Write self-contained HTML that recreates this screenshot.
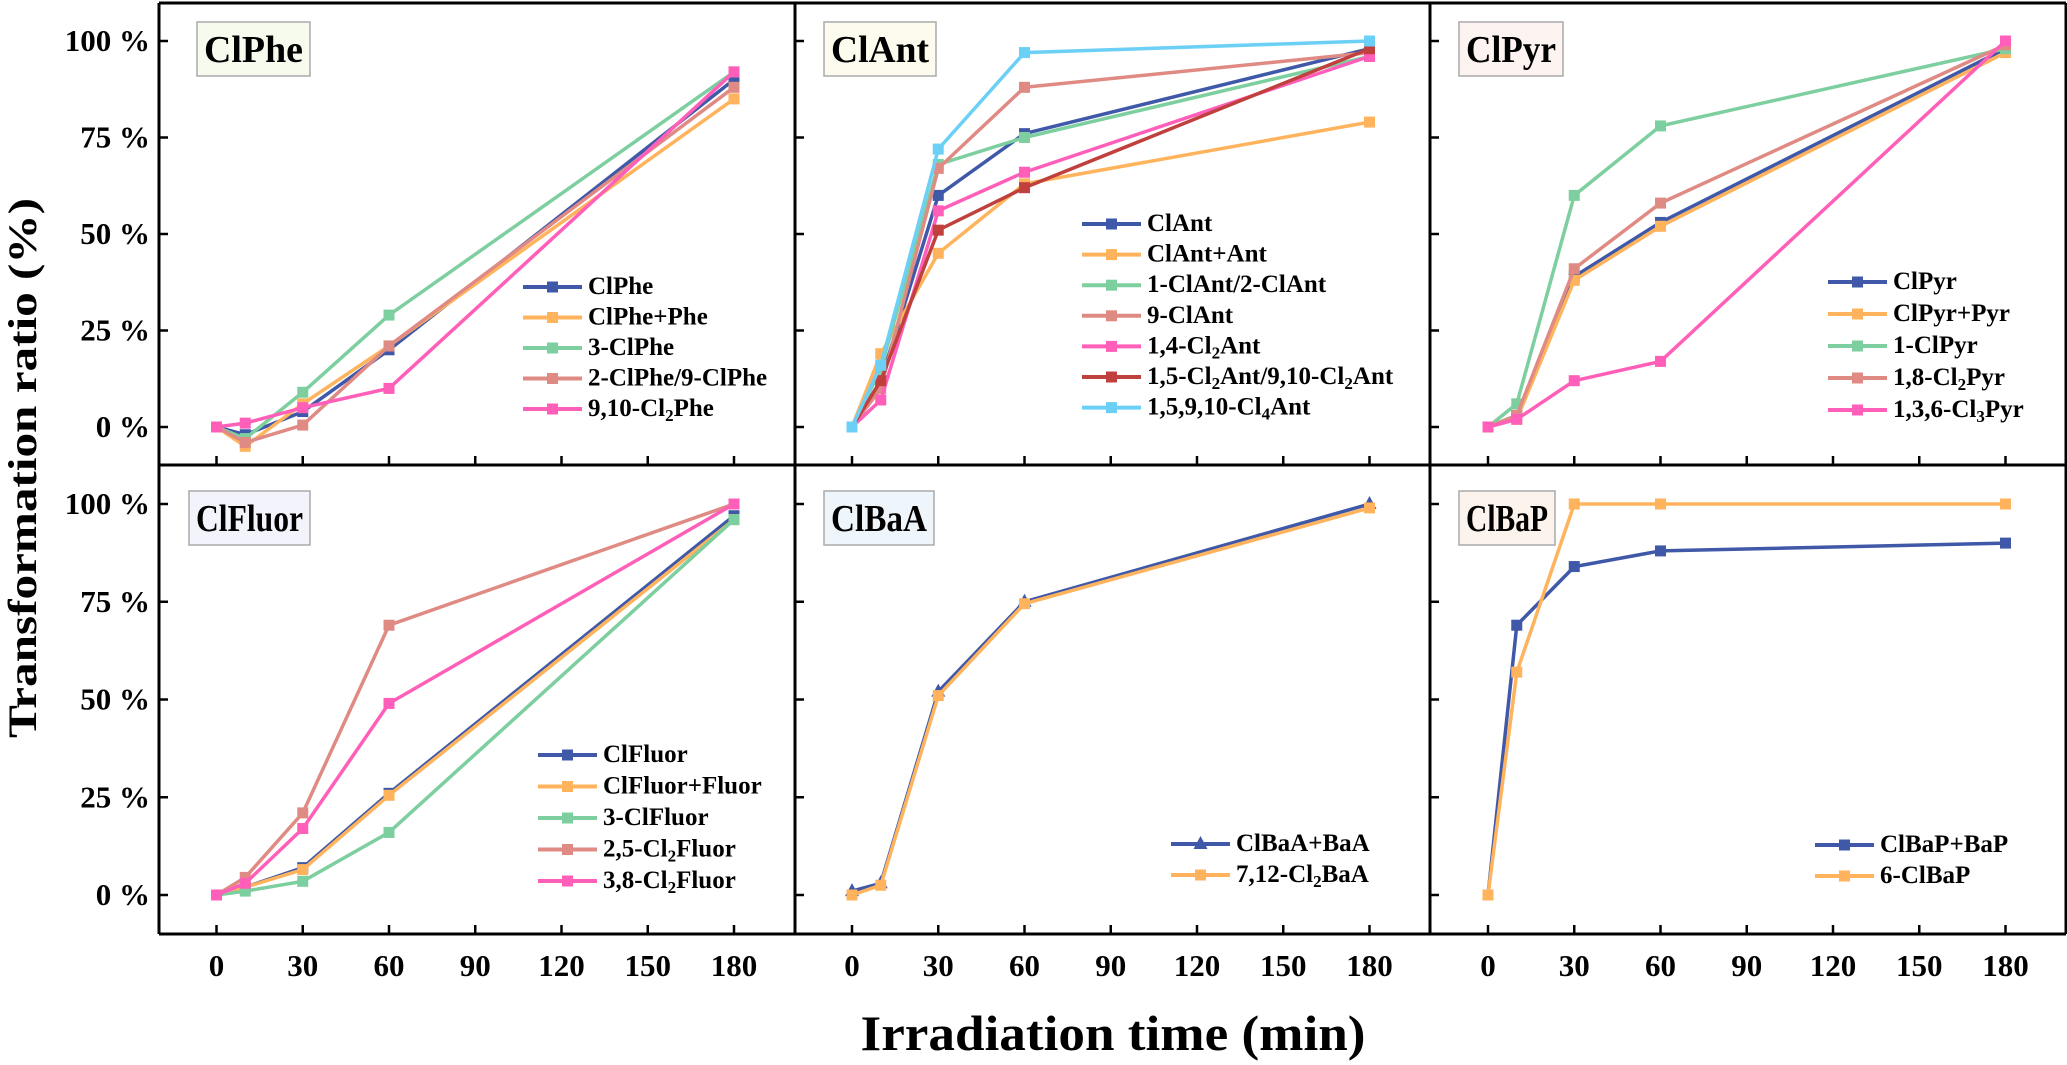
<!DOCTYPE html>
<html><head><meta charset="utf-8">
<style>
html,body{margin:0;padding:0;background:#fff;}
svg{display:block;}
text{font-family:"Liberation Serif",serif;font-weight:bold;fill:#000;}
</style></head>
<body>
<svg id="chart" width="2067" height="1065" viewBox="0 0 2067 1065" xmlns="http://www.w3.org/2000/svg">
<rect x="0" y="0" width="2067" height="1065" fill="#fff"/>
<g id="marks"></g>
<g id="frame"></g>
<text transform="translate(36,468) rotate(-90)" text-anchor="middle" font-size="40" textLength="540" lengthAdjust="spacingAndGlyphs">Transformation ratio (%)</text>
<text x="1113" y="1050" text-anchor="middle" font-size="50" textLength="505" lengthAdjust="spacingAndGlyphs">Irradiation time (min)</text>
</svg>
<script>
const timesA = [0, 10, 30, 60, 180];
const xTicks = [0, 30, 60, 90, 120, 150, 180];
const yTicks = [0, 25, 50, 75, 100];
const yTickLabels = ["0 %", "25 %", "50 %", "75 %", "100 %"];

const phe1 = [0, -2, 4, 20, 90];
const phe2 = [0, -5, 6, 21, 85];
const phe3 = [0, -3, 9, 29, 92];
const phe4 = [0, -4, 0.5, 21, 88];
const phe5 = [0, 1, 5, 10, 92];

const ant1 = [0, 12, 60, 76, 98];
const ant2 = [0, 19, 45, 63, 79];
const ant3 = [0, 15, 68, 75, 96];
const ant4 = [0, 10, 67, 88, 97];
const ant5 = [0, 7, 56, 66, 96];
const ant6 = [0, 12, 51, 62, 98];
const ant7 = [0, 16, 72, 97, 100];

const pyr1 = [0, 3, 39, 53, 98];
const pyr2 = [0, 2, 38, 52, 97];
const pyr3 = [0, 6, 60, 78, 98];
const pyr4 = [0, 3, 41, 58, 99];
const pyr5 = [0, 2, 12, 17, 100];

const flu1 = [0, 2, 7, 26, 97];
const flu2 = [0, 2, 6.5, 25.5, 96];
const flu3 = [0, 1, 3.5, 16, 96];
const flu4 = [0, 4.5, 21, 69, 100];
const flu5 = [0, 3, 17, 49, 100];

const baa1 = [1, 3, 52, 75, 100];
const baa2 = [0, 2.5, 51, 74.5, 99];

const bap1 = [0, 69, 84, 88, 90];
const bap2 = [0, 57, 100, 100, 100];

const C = {blue:"#3f58a8", orange:"#ffb35c", green:"#7dcf9f", salmon:"#e08a84", pink:"#ff5fb8", red:"#c0403d", sky:"#6ccff6"};

const NS = "http://www.w3.org/2000/svg";
const marks = document.getElementById('marks');
const frame = document.getElementById('frame');
function mk(tag, attrs, parent){const e=document.createElementNS(NS,tag);for(const k in attrs)e.setAttribute(k,attrs[k]);parent.appendChild(e);return e;}

const cols = [{x0:216.5},{x0:852},{x0:1488}];
const rows = [{y0:427, s:3.86},{y0:895, s:3.91}];
const pxPerMin = 86.25/30;
function xs(c,t){return cols[c].x0 + t*pxPerMin;}
function ys(r,v){return rows[r].y0 - v*rows[r].s;}

const panels = [
 {c:0,r:0,title:"ClPhe",bx:197,by:22,bw:113,bh:54,fill:"#f6fbee",lx:523,ly:287,sp:30.5,
  series:[["ClPhe",phe1,C.blue],["ClPhe+Phe",phe2,C.orange],["3-ClPhe",phe3,C.green],["2-ClPhe/9-ClPhe",phe4,C.salmon],["9,10-Cl|2|Phe",phe5,C.pink]]},
 {c:1,r:0,title:"ClAnt",bx:824,by:22,bw:112,bh:54,fill:"#fdfbee",lx:1082,ly:224,sp:30.6,
  series:[["ClAnt",ant1,C.blue],["ClAnt+Ant",ant2,C.orange],["1-ClAnt/2-ClAnt",ant3,C.green],["9-ClAnt",ant4,C.salmon],["1,4-Cl|2|Ant",ant5,C.pink],["1,5-Cl|2|Ant/9,10-Cl|2|Ant",ant6,C.red],["1,5,9,10-Cl|4|Ant",ant7,C.sky]]},
 {c:2,r:0,title:"ClPyr",bx:1459,by:22,bw:104,bh:54,fill:"#fdf3f0",lx:1828,ly:282,sp:32,
  series:[["ClPyr",pyr1,C.blue],["ClPyr+Pyr",pyr2,C.orange],["1-ClPyr",pyr3,C.green],["1,8-Cl|2|Pyr",pyr4,C.salmon],["1,3,6-Cl|3|Pyr",pyr5,C.pink]]},
 {c:0,r:1,title:"ClFluor",bx:189,by:491,bw:121,bh:54,fill:"#f3f3fb",lx:538,ly:755,sp:31.5,
  series:[["ClFluor",flu1,C.blue],["ClFluor+Fluor",flu2,C.orange],["3-ClFluor",flu3,C.green],["2,5-Cl|2|Fluor",flu4,C.salmon],["3,8-Cl|2|Fluor",flu5,C.pink]]},
 {c:1,r:1,title:"ClBaA",bx:824,by:491,bw:110,bh:54,fill:"#eef6fb",lx:1171,ly:844,sp:31,
  series:[["ClBaA+BaA",baa1,C.blue,"tri"],["7,12-Cl|2|BaA",baa2,C.orange]]},
 {c:2,r:1,title:"ClBaP",bx:1459,by:491,bw:96,bh:54,fill:"#fbf3ec",lx:1815,ly:845,sp:31,
  series:[["ClBaP+BaP",bap1,C.blue],["6-ClBaP",bap2,C.orange]]}
];

function marker(g,x,y,color,shape){
  if(shape==="tri"){
    const el=mk('polygon',{points:`${x},${y-8} ${x-7},${y+5} ${x+7},${y+5}`,fill:color},g);
    
    
  } else {
    const el=mk('rect',{x:x-5.5,y:y-5.5,width:11,height:11,fill:color},g);
    
    
  }
}
function label(parent,x,y,str){
  const t=mk('text',{x:x,y:y,'font-size':25,'dominant-baseline':'middle'},parent);
  const parts=str.split('|');
  parts.forEach((p,i)=>{
    const ts=mk('tspan',{},t);
    if(i%2===1){ts.setAttribute('font-size','17');ts.setAttribute('dy','7');}
    else if(i>0){ts.setAttribute('dy','-7');}
    ts.textContent=p;
  });
  return t;
}

panels.forEach(p=>{
  const g=mk('g',{},marks);
  
  
  p.series.forEach((s,si)=>{
    const sg=mk('g',{},g);
    
    
    const pts=timesA.map((t,i)=>xs(p.c,t).toFixed(1)+','+ys(p.r,s[1][i]).toFixed(1)).join(' ');
    const pl=mk('polyline',{points:pts,fill:'none',stroke:s[2],'stroke-width':3.5,'stroke-linejoin':'miter'},sg);
    
    
    timesA.forEach((t,i)=>marker(sg,xs(p.c,t),ys(p.r,s[1][i]),s[2],s[3]));
  });
  const lg=mk('g',{},g);
  
  
  p.series.forEach((s,si)=>{
    const y=p.ly+si*p.sp;
    const le=mk('g',{},lg);
    
    
    mk('line',{x1:p.lx,x2:p.lx+59,y1:y,y2:y,stroke:s[2],'stroke-width':4},le);
    marker(le,p.lx+29.5,y,s[2],s[3]);
    label(le,p.lx+65,y+1,s[0]);
  });
  const tb=mk('g',{},g);
  
  
  mk('rect',{x:p.bx,y:p.by,width:p.bw,height:p.bh,fill:p.fill,stroke:'#aaa','stroke-width':1.5},tb);
  const tt=mk('text',{x:p.bx+p.bw/2,y:p.by+p.bh/2+13,'text-anchor':'middle','font-size':38,textLength:p.bw-14,lengthAdjust:'spacingAndGlyphs'},tb);
  tt.textContent=p.title;
});

const L=159,R=2066,T=3,M=465,B=934,V1=795,V2=1430;
[[L,T,R,T],[L,B,R,B],[L,T,L,B],[R,T,R,B],[L,M,R,M],[V1,T,V1,B],[V2,T,V2,B]].forEach(a=>{
  const l=mk('line',{x1:a[0],y1:a[1],x2:a[2],y2:a[3],stroke:'#000','stroke-width':3},frame);
  
  
});
[0,1].forEach(r=>{
  [L,V1,V2].forEach((vx,ci)=>{
    yTicks.forEach(v=>{
      const y=ys(r,v);
      mk('line',{x1:vx,x2:vx+9,y1:y,y2:y,stroke:'#000','stroke-width':2.5},frame);
    });
  });
  yTicks.forEach((v,i)=>{
    const t=mk('text',{x:150,y:ys(r,v)+10,'text-anchor':'end','font-size':31},frame);
    
    
    t.textContent=yTickLabels[i];
  });
});
[0,1,2].forEach(c=>{
  xTicks.forEach(v=>{
    const x=xs(c,v);
    mk('line',{x1:x,x2:x,y1:B,y2:B-9,stroke:'#000','stroke-width':2.5},frame);
    mk('line',{x1:x,x2:x,y1:M,y2:M-9,stroke:'#000','stroke-width':2.5},frame);
    const t=mk('text',{x:x,y:B+42,'text-anchor':'middle','font-size':31},frame);
    
    
    t.textContent=v;
  });
});
</script>
</body></html>
